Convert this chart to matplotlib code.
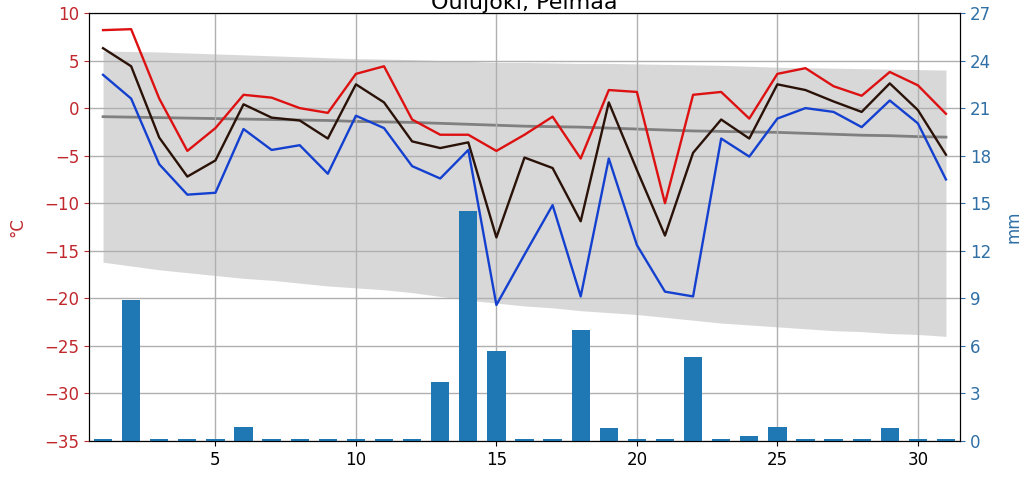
import matplotlib
matplotlib.use('Agg')
import matplotlib.pyplot as plt

days = list(range(1, 32))

# daily temperatures (°C)
t_max = [8.2, 8.3, 1.0, -4.5, -2.1, 1.4, 1.1, 0.0, -0.5, 3.6, 4.4, -1.2, -2.8, -2.8, -4.5, -2.8,
         -0.9, -5.3, 1.9, 1.7, -10.0, 1.4, 1.7, -1.1, 3.6, 4.2, 2.3, 1.3, 3.8, 2.4, -0.6]
t_mean = [6.3, 4.4, -3.1, -7.2, -5.5, 0.4, -1.0, -1.3, -3.2, 2.5, 0.6, -3.5, -4.2, -3.6, -13.6, -5.2,
          -6.3, -11.9, 0.6, -6.5, -13.4, -4.7, -1.2, -3.2, 2.5, 1.9, 0.7, -0.4, 2.6, -0.2, -4.9]
t_min = [3.5, 1.0, -5.9, -9.1, -8.9, -2.2, -4.4, -3.9, -6.9, -0.8, -2.1, -6.1, -7.4, -4.4, -20.7, -15.4,
         -10.2, -19.8, -5.3, -14.4, -19.3, -19.8, -3.2, -5.1, -1.1, 0.0, -0.4, -2.0, 0.8, -1.6, -7.5]

# long-term climate statistics (°C)
clim_high = [6.0, 5.95, 5.9, 5.8, 5.7, 5.6, 5.5, 5.4, 5.3, 5.2, 5.15, 5.1, 5.0, 4.9, 4.8, 4.8,
             4.75, 4.7, 4.7, 4.65, 4.6, 4.55, 4.5, 4.4, 4.3, 4.25, 4.2, 4.15, 4.1, 4.05, 4.0]
clim_low = [-16.2, -16.6, -17.0, -17.3, -17.6, -17.9, -18.1, -18.4, -18.7, -18.9, -19.1, -19.4, -19.8,
            -20.2, -20.5, -20.8, -21.0, -21.3, -21.5, -21.7, -22.0, -22.3, -22.6, -22.8, -23.0, -23.2,
            -23.4, -23.5, -23.7, -23.8, -24.0]
clim_mean = [-0.9, -0.95, -1.0, -1.05, -1.1, -1.15, -1.2, -1.25, -1.3, -1.4, -1.45, -1.5, -1.6, -1.7,
             -1.8, -1.9, -1.95, -2.0, -2.1, -2.2, -2.3, -2.4, -2.45, -2.5, -2.55, -2.65, -2.75, -2.85,
             -2.9, -3.0, -3.05]

# daily precipitation (mm)
precip = [0.15, 8.9, 0.15, 0.15, 0.15, 0.9, 0.15, 0.15, 0.15, 0.15, 0.15, 0.15, 3.7, 14.5, 5.7, 0.15,
          0.15, 7.0, 0.8, 0.15, 0.15, 5.3, 0.15, 0.3, 0.9, 0.15, 0.15, 0.15, 0.8, 0.15, 0.15]

title = 'Oulujoki, Pelmaa'

fig = plt.figure(figsize=(10.34, 4.84), dpi=100)
ax1 = fig.add_axes([89 / 1034, 43 / 484, 871 / 1034, 428 / 484])
ax2 = ax1.twinx()

ax1.fill_between(days, clim_low, clim_high, color='grey', alpha=0.3, linewidth=0, zorder=1)
ax1.plot(days, clim_mean, color='#808080', linewidth=2.0, zorder=2)
ax1.plot(days, t_max, color='#dd1111', linewidth=1.7, zorder=3)
ax1.plot(days, t_mean, color='#2a1208', linewidth=1.7, zorder=3)
ax1.plot(days, t_min, color='#1440d0', linewidth=1.7, zorder=3)

ax2.bar(days, precip, width=0.65, color='#1f77b4', zorder=2)

ax1.set_xlim(0.5, 31.5)
ax1.set_ylim(-35, 10)
ax2.set_ylim(0, 27)
ax1.set_xticks([5, 10, 15, 20, 25, 30])
ax1.set_yticks(range(-35, 11, 5))
ax2.set_yticks(range(0, 28, 3))

ax1.grid(True, color='#b0b0b0', linewidth=1.0)
ax1.set_axisbelow(False)

ax1.tick_params(axis='y', colors='#c0282d', labelsize=12)
ax1.tick_params(axis='x', labelsize=12)
ax2.tick_params(axis='y', colors='#2f6fa5', labelsize=12)
for lbl in ax1.get_yticklabels():
    lbl.set_color('#c0282d')
ax1.set_ylabel('°C', color='#c0282d', fontsize=12, labelpad=13)
ax2.set_ylabel('mm', color='#2f6fa5', fontsize=12, labelpad=10)

ax1.set_title(title, fontsize=16, pad=1)

fig.savefig('out.png', dpi=100)
